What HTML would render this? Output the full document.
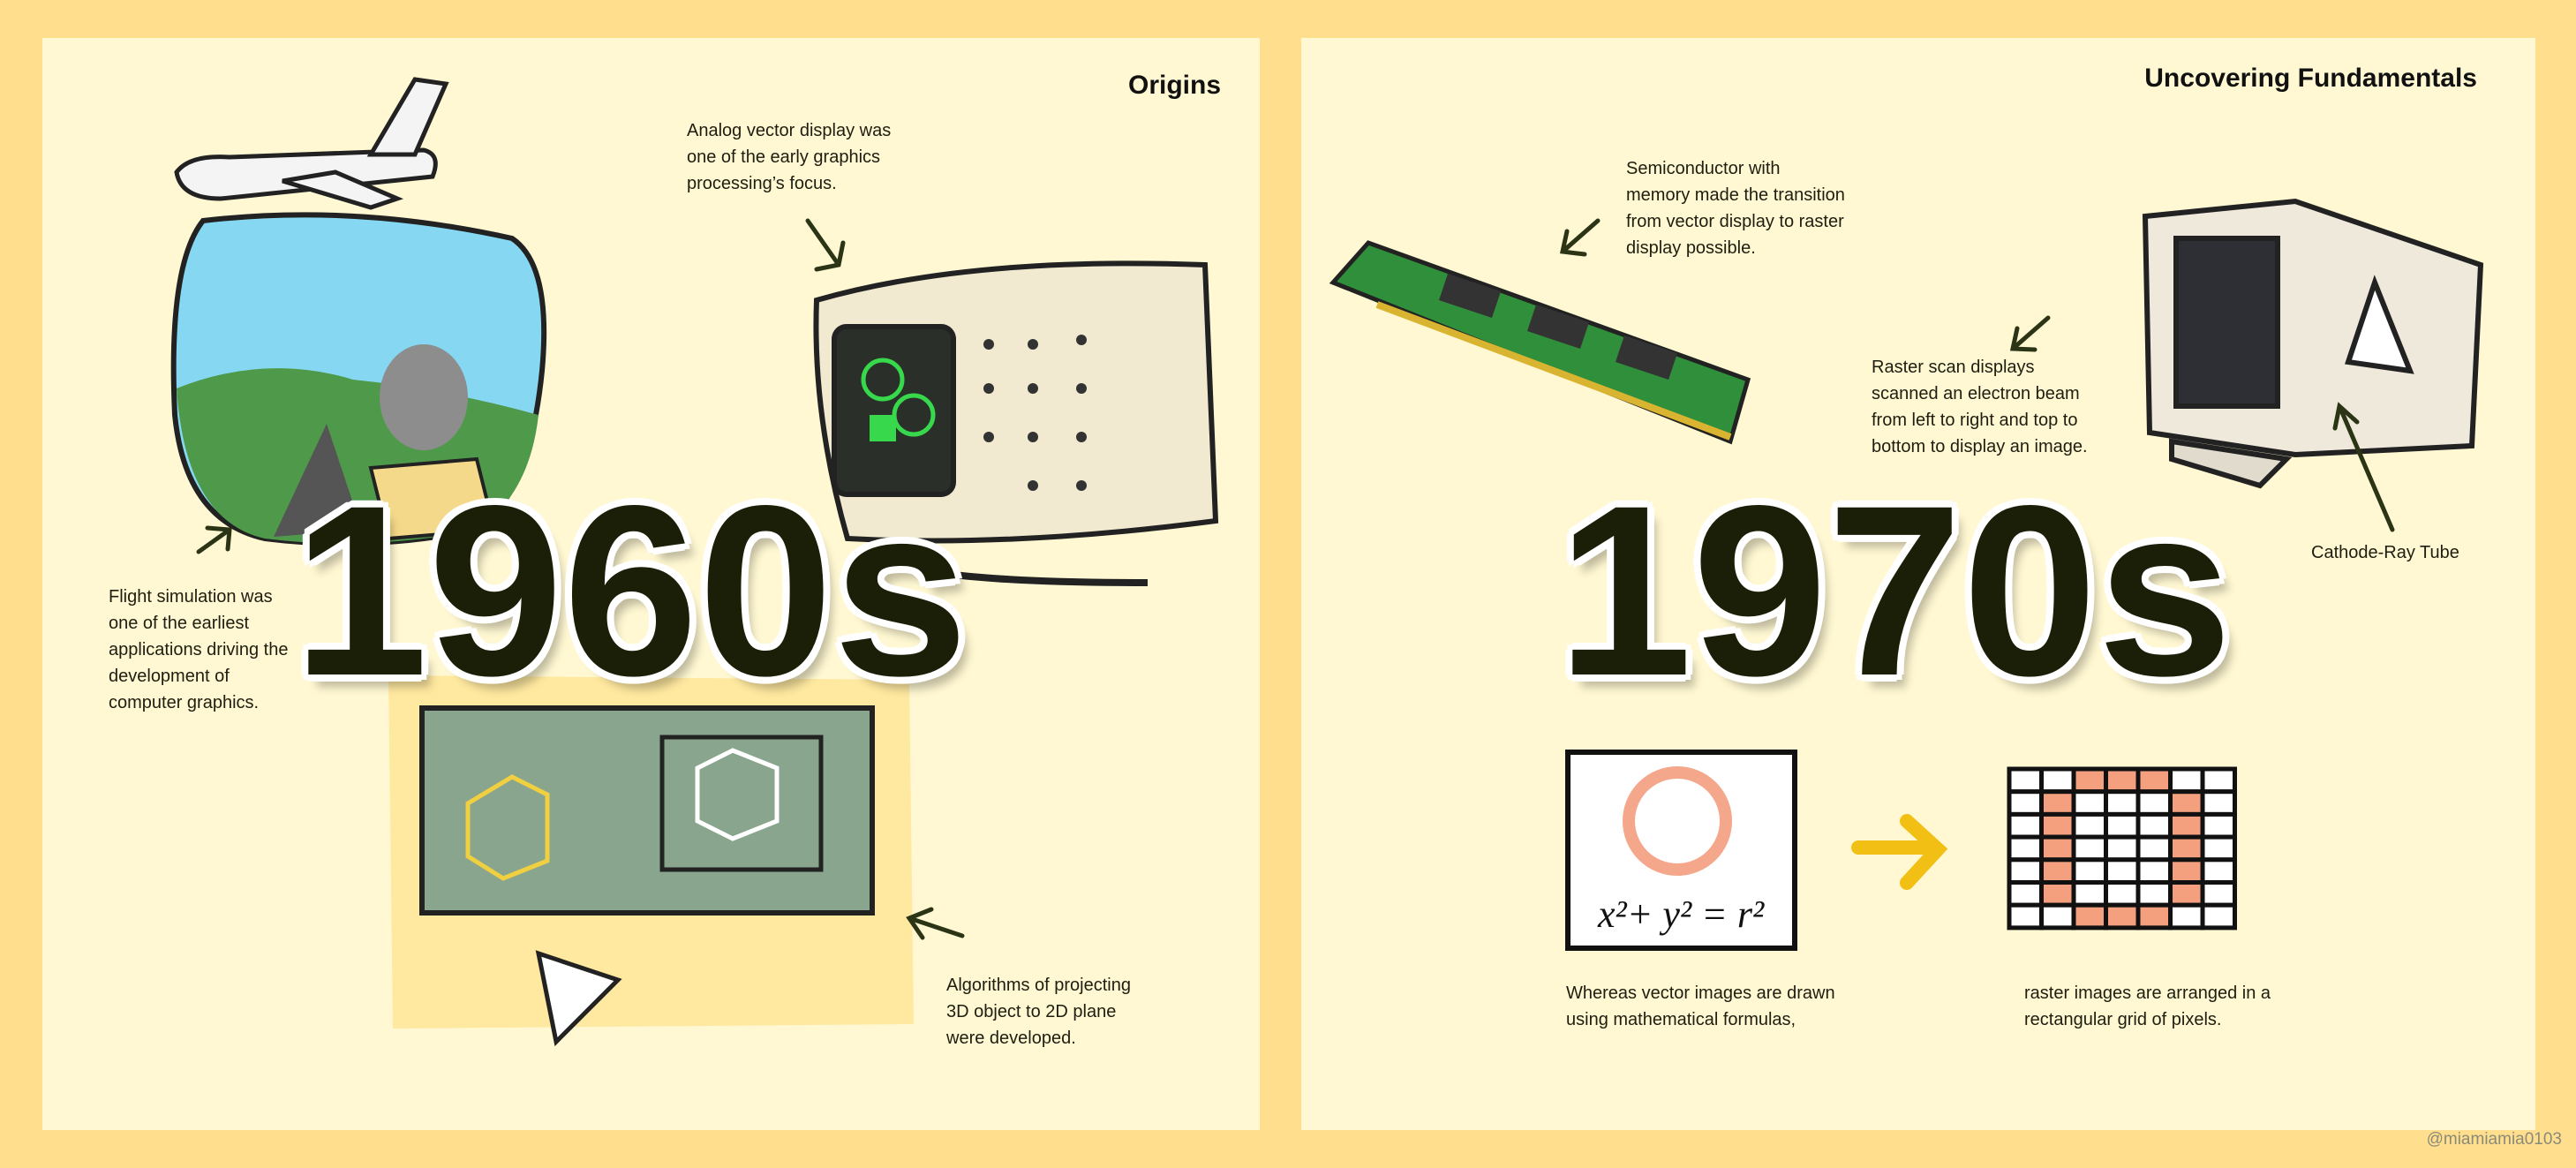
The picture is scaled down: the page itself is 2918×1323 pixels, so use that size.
<!DOCTYPE html>
<html><head><meta charset="utf-8"><style>
body{margin:0;width:2918px;height:1323px;background:#ffdf8e;position:relative;overflow:hidden;font-family:"Liberation Sans",sans-serif}
.p{position:absolute;background:#fff8d2}
.t{position:absolute;font-size:20px;line-height:30px;color:#1e1e10}
.h{position:absolute;font-weight:bold;font-size:30px;color:#111}
.big{position:absolute;font-weight:bold;font-size:275px;letter-spacing:0;color:#1c1f08;line-height:1;text-shadow:6px 6px 0 #fff,-6px -6px 0 #fff,6px -6px 0 #fff,-6px 6px 0 #fff,0 8px 0 #fff,8px 0 0 #fff,-8px 0 0 #fff,0 -8px 0 #fff,10px 14px 10px rgba(0,0,0,.25)}
svg{position:absolute;left:0;top:0}
</style></head><body>
<div class="p" style="left:48px;top:43px;width:1379px;height:1237px"></div>
<div class="p" style="left:1474px;top:43px;width:1398px;height:1237px"></div>
<svg width="2918" height="1323">
<g stroke="#222" stroke-width="5" fill="#f4f4f4">
<path d="M200 195 Q215 175 260 178 L480 170 Q500 175 490 200 L250 225 Q205 225 200 195Z"/>
<path d="M420 175 L470 90 L505 95 L470 175Z"/><path d="M320 205 L420 235 L450 225 L380 195Z"/></g>
<g>
<path d="M230 250 Q400 230 580 270 Q625 300 614 420 Q600 560 540 600 Q420 625 300 610 Q210 590 198 470 Q190 300 230 250Z" fill="#86d8f2" stroke="#222" stroke-width="6"/>
<path d="M200 440 Q300 400 400 430 Q500 440 610 470 Q600 560 540 600 Q420 625 300 610 Q210 590 200 440Z" fill="#4f9a4a"/>
<path d="M310 608 L370 480 L410 600Z" fill="#555"/><ellipse cx="480" cy="450" rx="50" ry="60" fill="#8d8d8d"/>
<path d="M420 530 L540 520 L560 600 L440 610Z" fill="#f5d98a" stroke="#222" stroke-width="4"/></g>
<g stroke="#222" stroke-width="6">
<path d="M925 340 Q1100 290 1365 300 L1377 590 Q1150 620 960 610 Q920 470 925 340Z" fill="#f1ead0"/>
<rect x="945" y="370" width="135" height="190" rx="14" fill="#2a2f2a"/>
<circle cx="1000" cy="430" r="22" fill="none" stroke="#37d84c" stroke-width="5"/><circle cx="1035" cy="470" r="22" fill="none" stroke="#37d84c" stroke-width="5"/><rect x="985" y="470" width="30" height="30" fill="#37d84c" stroke="none"/>
<path d="M990 620 Q1000 660 1300 660" fill="none" stroke-width="8"/></g>
<g fill="#333"><circle cx="1120" cy="390" r="6"/><circle cx="1170" cy="390" r="6"/><circle cx="1225" cy="385" r="6"/><circle cx="1120" cy="440" r="6"/><circle cx="1170" cy="440" r="6"/><circle cx="1225" cy="440" r="6"/><circle cx="1120" cy="495" r="6"/><circle cx="1170" cy="495" r="6"/><circle cx="1225" cy="495" r="6"/><circle cx="1170" cy="550" r="6"/><circle cx="1225" cy="550" r="6"/></g>
<path d="M440 765 L1030 770 L1035 1160 L445 1165Z" fill="#ffe9a0"/>
<rect x="478" y="802" width="510" height="232" fill="#8aa58d" stroke="#222" stroke-width="6"/>
<g fill="none" stroke-width="5"><path d="M530 910 L580 880 L620 900 L620 975 L570 995 L530 970Z" stroke="#f0d040"/><rect x="750" y="835" width="180" height="150" stroke="#222"/><path d="M790 870 L830 850 L880 870 L880 930 L830 950 L790 930Z" stroke="#fff"/></g>
<path d="M610 1080 L700 1110 L630 1180Z" fill="#fff" stroke="#222" stroke-width="5"/>
<g><path d="M1510 320 L1550 275 L1980 430 L1960 500 Z" fill="#2f8f3a" stroke="#222" stroke-width="5"/>
<path d="M1560 345 L1960 495" stroke="#d8b430" stroke-width="8"/>
<path d="M1640 310 L1700 330 L1690 360 L1630 340Z M1740 345 L1800 365 L1790 395 L1730 375Z M1840 380 L1900 400 L1890 430 L1830 410Z" fill="#333"/></g>
<g stroke="#222" stroke-width="6">
<path d="M2430 245 L2600 228 L2810 300 L2800 505 L2600 515 L2435 490Z" fill="#efe9dc"/>
<rect x="2465" y="270" width="115" height="190" fill="#2e2f34"/>
<path d="M2460 500 L2590 520 L2560 550 L2460 520Z" fill="#e0dbcd"/>
<path d="M2690 320 L2730 420 L2660 410Z" fill="#fff"/></g>
<rect x="1776" y="852" width="257" height="222" fill="#fff" stroke="#111" stroke-width="6"/>
<circle cx="1900" cy="930" r="55" fill="none" stroke="#f4a78a" stroke-width="14"/>
<text x="1810" y="1050" font-family="Liberation Serif,serif" font-size="44" font-style="italic" fill="#111">x²+ y² = r²</text>
<path d="M2105 960 L2185 960 M2160 930 L2195 962 L2160 1000" fill="none" stroke="#f2c014" stroke-width="16" stroke-linecap="round"/>
<g id="grid"></g>
<g fill="none" stroke="#2b3516" stroke-width="5" stroke-linecap="round">
<path d="M915 250 L950 300 M925 305 L950 300 L955 275"/><path d="M260 600 L225 625 M235 598 L260 600 L258 622"/>
<path d="M1090 1060 L1030 1040 M1055 1030 L1030 1040 L1045 1062"/><path d="M1810 250 L1770 285 M1775 262 L1770 285 L1795 288"/>
<path d="M2320 360 L2280 395 M2285 372 L2280 395 L2305 396"/><path d="M2710 600 L2650 460 M2645 485 L2650 460 L2670 478"/></g>
</svg>
<div class="h" style="right:1535px;top:80px">Origins</div>
<div class="h" style="right:112px;top:72px">Uncovering Fundamentals</div>
<div class="big" style="left:332px;top:532px">1960s</div>
<div class="big" style="left:1764px;top:532px">1970s</div>
<div class="t" style="left:778px;top:133px">Analog vector display was<br>one of the early graphics<br>processing’s focus.</div>
<div class="t" style="left:123px;top:661px">Flight simulation was<br>one of the earliest<br>applications driving the<br>development of<br>computer graphics.</div>
<div class="t" style="left:1072px;top:1101px">Algorithms of projecting<br>3D object to 2D plane<br>were developed.</div>
<div class="t" style="left:1842px;top:176px">Semiconductor with<br>memory made the transition<br>from vector display to raster<br>display possible.</div>
<div class="t" style="left:2120px;top:401px">Raster scan displays<br>scanned an electron beam<br>from left to right and top to<br>bottom to display an image.</div>
<div class="t" style="left:2618px;top:611px">Cathode-Ray Tube</div>
<div class="t" style="left:1774px;top:1110px">Whereas vector images are drawn<br>using mathematical formulas,</div>
<div class="t" style="left:2293px;top:1110px">raster images are arranged in a<br>rectangular grid of pixels.</div>
<div class="t" style="right:16px;top:1276px;color:#8a8a7a;font-size:19px">@miamiamia0103</div>
<script>
const g=document.getElementById('grid');const ns='http://www.w3.org/2000/svg';
for(let r=0;r<7;r++)for(let c=0;c<7;c++){const e=document.createElementNS(ns,'rect');


const x=2276+c*36.5,y=871+r*25.7;e.setAttribute('x',x);e.setAttribute('y',y);e.setAttribute('width',36.5);e.setAttribute('height',25.7);
const ring=(r==0&&(c==2||c==3||c==4))||(r==6&&(c==2||c==3||c==4))||((r>0&&r<6)&&(c==1||c==5));
e.setAttribute('fill',ring?'#f4a07e':'#fff');e.setAttribute('stroke','#111');e.setAttribute('stroke-width','5');g.appendChild(e);}
</script>
</body></html>
